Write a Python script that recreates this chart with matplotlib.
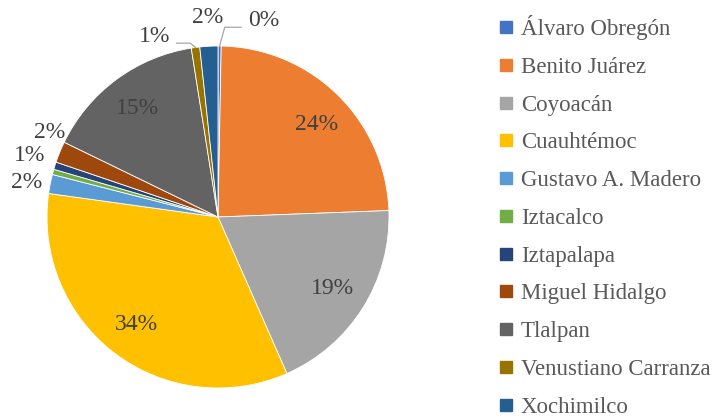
import matplotlib
matplotlib.use('Agg')
import matplotlib.pyplot as plt
from matplotlib.lines import Line2D
import numpy as np

# share of each borough (percent), clockwise from 12 o'clock
alcaldias = ['Álvaro Obregón', 'Benito Juárez', 'Coyoacán', 'Cuauhtémoc',
             'Gustavo A. Madero', 'Iztacalco', 'Iztapalapa', 'Miguel Hidalgo',
             'Tlalpan', 'Venustiano Carranza', 'Xochimilco']
porcentaje = [0.3, 24.1, 19.0, 33.8, 1.8, 0.5, 0.7, 2.0, 15.3, 0.8, 1.7]
etiquetas = ['0%', '24%', '19%', '34%', '2%', '', '1%', '2%', '15%', '1%', '2%']

colores = ['#4472C4', '#ED7D31', '#A5A5A5', '#FFC000', '#5B9BD5', '#70AD47',
           '#264478', '#9E480E', '#636363', '#997300', '#255E91']

# label placement: (angle clockwise from top in degrees, radius), None = use wedge mid
pos_etiqueta = [(13, 1.18), (47, 0.79), None, None, (280.3, 1.14), None,
                (288, 1.16), (296.8, 1.1), None, (340.6, 1.12), (357, 1.17)]
con_linea = [True, False, False, False, False, False, False, False, False, True, False]

plt.rcParams['font.family'] = ['Liberation Serif', 'DejaVu Serif']
texto = '#404040'

W, H = 713, 419
fig = plt.figure(figsize=(W / 100, H / 100), dpi=100)
cx, cy, r = 218, 217, 171
ax = fig.add_axes([(cx - r) / W, (H - cy - r) / H, 2 * r / W, 2 * r / H])

wedges, _ = ax.pie(porcentaje, colors=colores, startangle=90, counterclock=False,
                   wedgeprops=dict(edgecolor='white', linewidth=0.6))
ax.set_xlim(-1, 1)
ax.set_ylim(-1, 1)
ax.axis('off')

for w, lab, pos, linea in zip(wedges, etiquetas, pos_etiqueta, con_linea):
    if not lab:
        continue
    mid = np.deg2rad((w.theta1 + w.theta2) / 2)
    if pos is None:
        rr = 0.79
        x, y = rr * np.cos(mid), rr * np.sin(mid)
    else:
        a = np.deg2rad(90 - pos[0])
        x, y = pos[1] * np.cos(a), pos[1] * np.sin(a)
    ax.text(x, y, lab, ha='center', va='center', fontsize=17, color=texto)
    if linea:
        ex, ey = np.cos(mid), np.sin(mid)
        sx = x - 0.13 if x > ex else x + 0.13
        ax.plot([sx, ex + (0.03 if x > ex else -0.03), ex], [y - 0.04, y - 0.04, ey],
                color='#A6A6A6', lw=0.9, clip_on=False)

handles = [Line2D([], [], marker='s', linestyle='', markersize=8, color=c) for c in colores]
leg = fig.legend(handles, alcaldias, loc='upper left', bbox_to_anchor=(499 / W, 1 - 15 / H),
                 frameon=False, fontsize=16.5, labelspacing=0.73, handlelength=0.6,
                 handletextpad=0.35, borderaxespad=0, borderpad=0)
for t in leg.get_texts():
    t.set_color('#595959')

fig.savefig('out.png', dpi=100)
